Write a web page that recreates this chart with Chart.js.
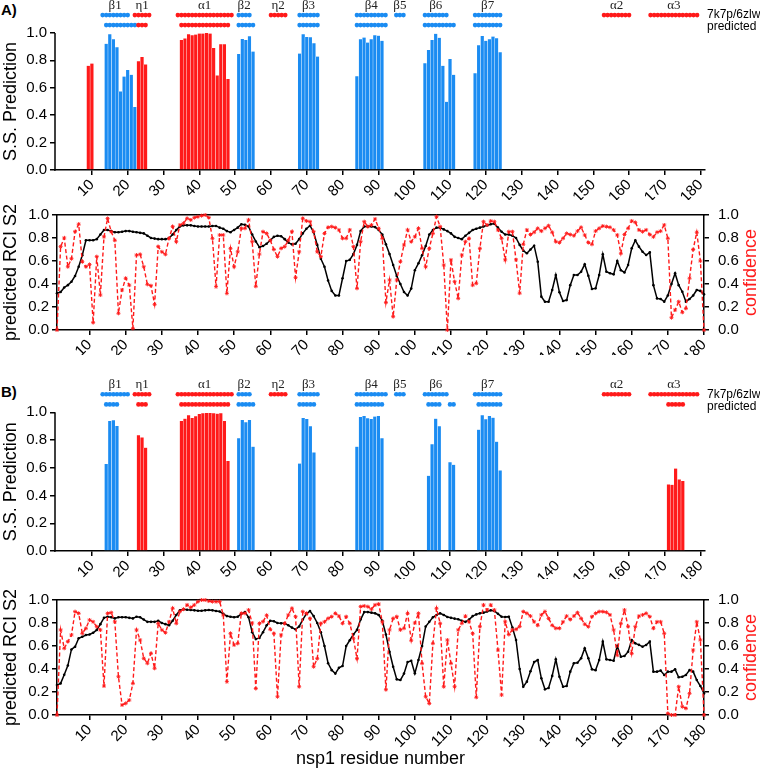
<!DOCTYPE html>
<html>
<head>
<meta charset="utf-8">
<script src="https://cdn.jsdelivr.net/npm/chart.js@4.4.1/dist/chart.umd.min.js"></script>
<style>
  body { margin: 0; background: #fff; }
  #wrap { position: relative; width: 760px; height: 770px; }
  canvas { position: absolute; left: 0; }
  .panel { position: absolute; left: 1px; font: bold 15px "Liberation Sans", Arial, sans-serif; }
</style>
</head>
<body>
<div id="wrap">
  <div class="panel" style="top:1px">A)</div>
  <canvas id="barA" width="760" height="200" style="top:0"></canvas>
  <canvas id="lineA" width="760" height="160" style="top:195px"></canvas>
  <div class="panel" style="top:383px">B)</div>
  <canvas id="barB" width="760" height="200" style="top:379px"></canvas>
  <canvas id="lineB" width="760" height="190" style="top:580px"></canvas>
</div>
<script>
const RED = '#ff1a1a';
const BLUE = '#1b8cf2';

const xTicks = [10, 20, 30, 40, 50, 60, 70, 80, 90, 100, 110, 120, 130, 140, 150, 160, 170, 180];
const yTicks = [0, 0.2, 0.4, 0.6, 0.8, 1.0];
const rowNames = ['7k7p/6zlw', 'predicted'];

// secondary structure from the deposited structures (top row of dots)
const structKnown = [
    {name: 'β1', type: 'E', from: 13, to: 20},
    {name: 'η1', type: 'H', from: 22, to: 26},
    {name: 'α1', type: 'H', from: 34, to: 49},
    {name: 'β2', type: 'E', from: 51, to: 54},
    {name: 'η2', type: 'H', from: 60, to: 64},
    {name: 'β3', type: 'E', from: 68, to: 73},
    {name: 'β4', type: 'E', from: 84, to: 92},
    {name: 'β5', type: 'E', from: 95, to: 97},
    {name: 'β6', type: 'E', from: 103, to: 109},
    {name: 'β7', type: 'E', from: 117, to: 124},
    {name: 'α2', type: 'H', from: 153, to: 160},
    {name: 'α3', type: 'H', from: 166, to: 179}
];
const structPredA = [
    {type: 'E', from: 14, to: 22}, {type: 'H', from: 23, to: 25}, {type: 'H', from: 35, to: 48},
    {type: 'E', from: 51, to: 55}, {type: 'E', from: 68, to: 73}, {type: 'E', from: 84, to: 92},
    {type: 'E', from: 103, to: 111}, {type: 'E', from: 117, to: 124}
];
const structPredB = [
    {type: 'E', from: 14, to: 17}, {type: 'H', from: 23, to: 25}, {type: 'H', from: 35, to: 48},
    {type: 'E', from: 51, to: 55}, {type: 'E', from: 68, to: 72}, {type: 'E', from: 84, to: 91},
    {type: 'E', from: 104, to: 107}, {type: 'E', from: 110, to: 111}, {type: 'E', from: 118, to: 124},
    {type: 'H', from: 171, to: 175}
];

// S.S. prediction bars: [first residue, values...]
const helixA = [
    [9, [0.76, 0.777]],
    [23, [0.794, 0.825, 0.77]],
    [35, [0.949, 0.96, 0.99, 0.983, 0.988, 0.995, 0.995, 1.0, 0.995, 0.89, 0.69, 0.917, 0.917, 0.663]]
];
const strandA = [
    [14, [0.92, 0.99, 0.954, 0.896, 0.573, 0.682, 0.73, 0.694, 0.459]],
    [51, [0.847, 0.956, 0.949, 0.976, 0.864]],
    [68, [0.85, 0.99, 0.97, 0.968, 0.925, 0.828]],
    [84, [0.684, 0.954, 0.966, 0.93, 0.954, 0.983, 0.98, 0.942]],
    [103, [0.779, 0.876, 0.949, 0.993, 0.964, 0.76, 0.498, 0.81, 0.694]],
    [117, [0.706, 0.91, 0.978, 0.942, 0.954, 0.973, 0.961, 0.859]]
];
const helixB = [
    [23, [0.834, 0.819, 0.745]],
    [35, [0.937, 0.954, 0.978, 0.959, 0.971, 0.988, 0.993, 0.995, 0.995, 0.993, 0.99, 0.993, 0.937, 0.648]],
    [171, [0.48, 0.477, 0.595, 0.516, 0.504]]
];
const strandB = [
    [14, [0.627, 0.937, 0.942, 0.901]],
    [51, [0.812, 0.945, 0.928, 0.945, 0.752]],
    [68, [0.631, 0.959, 0.952, 0.899, 0.711]],
    [84, [0.752, 0.966, 0.973, 0.957, 0.952, 0.969, 0.973, 0.812]],
    [104, [0.542, 0.769, 0.954, 0.899]],
    [110, [0.639, 0.622]],
    [118, [0.875, 0.978, 0.949, 0.973, 0.961, 0.788, 0.581]]
];

// residues 1..180
const rciA = [
    0.32, 0.33, 0.37, 0.39, 0.42, 0.47, 0.55, 0.65, 0.78, 0.78,
    0.78, 0.79, 0.83, 0.87, 0.87, 0.86, 0.85, 0.85, 0.855, 0.86,
    0.86, 0.855, 0.85, 0.845, 0.84, 0.82, 0.80, 0.795, 0.79, 0.79,
    0.79, 0.80, 0.83, 0.87, 0.90, 0.91, 0.91, 0.91, 0.905, 0.90,
    0.90, 0.90, 0.90, 0.905, 0.905, 0.89, 0.88, 0.86, 0.85, 0.87,
    0.89, 0.92, 0.915, 0.90, 0.83, 0.77, 0.72, 0.73, 0.75, 0.78,
    0.81, 0.82, 0.815, 0.79, 0.76, 0.745, 0.75, 0.79, 0.84, 0.88,
    0.907, 0.85, 0.74, 0.62, 0.55, 0.43, 0.34, 0.30, 0.30, 0.45,
    0.60, 0.61, 0.66, 0.74, 0.86, 0.90, 0.90, 0.90, 0.895, 0.87,
    0.83, 0.745, 0.66, 0.565, 0.47, 0.40, 0.33, 0.30, 0.36, 0.52,
    0.58, 0.65, 0.73, 0.83, 0.87, 0.89, 0.89, 0.875, 0.86, 0.84,
    0.81, 0.80, 0.79, 0.82, 0.845, 0.87, 0.88, 0.89, 0.90, 0.91,
    0.92, 0.925, 0.89, 0.855, 0.83, 0.83, 0.82, 0.80, 0.74, 0.69,
    0.667, 0.70, 0.733, 0.594, 0.29, 0.246, 0.246, 0.348, 0.478, 0.328,
    0.252, 0.26, 0.39, 0.478, 0.478, 0.507, 0.571, 0.472, 0.357, 0.362,
    0.478, 0.658, 0.507, 0.493, 0.484, 0.60, 0.52, 0.50, 0.565, 0.71,
    0.78, 0.725, 0.68, 0.652, 0.675, 0.39, 0.275, 0.27, 0.246, 0.30,
    0.40, 0.493, 0.39, 0.333, 0.246, 0.27, 0.30, 0.348, 0.34, 0.31
];
const confA = [
    0.0, 0.725, 0.80, 0.55, 0.62, 0.855, 0.92, 0.594, 0.55, 0.57,
    0.064, 0.638, 0.304, 0.81, 0.97, 0.855, 0.78, 0.145, 0.348, 0.45,
    0.39, 0.014, 0.652, 0.658, 0.55, 0.397, 0.385, 0.223, 0.725, 0.68,
    0.658, 0.797, 0.899, 0.768, 0.913, 0.928, 0.971, 0.957, 0.977, 0.985,
    0.994, 1.0, 0.977, 0.797, 0.377, 0.826, 0.826, 0.319, 0.71, 0.55,
    0.68, 0.884, 0.884, 0.957, 0.768, 0.38, 0.66, 0.855, 0.84, 0.78,
    0.70, 0.638, 0.71, 0.725, 0.78, 0.855, 0.455, 0.68, 0.971, 0.948,
    0.942, 0.855, 0.68, 0.638, 0.84, 0.893, 0.899, 0.89, 0.87, 0.797,
    0.797, 0.87, 0.725, 0.362, 0.768, 0.942, 0.899, 0.913, 0.965, 0.884,
    0.797, 0.24, 0.435, 0.116, 0.435, 0.594, 0.739, 0.87, 0.768, 0.81,
    0.884, 0.71, 0.55, 0.71, 0.84, 0.985, 0.899, 0.565, 0.0, 0.609,
    0.42, 0.275, 0.652, 0.768, 0.797, 0.39, 0.406, 0.71, 0.942, 0.913,
    0.948, 0.942, 0.87, 0.797, 0.61, 0.855, 0.855, 0.61, 0.32, 0.745,
    0.87, 0.83, 0.85, 0.884, 0.86, 0.884, 0.907, 0.85, 0.768, 0.76,
    0.797, 0.84, 0.83, 0.82, 0.86, 0.893, 0.826, 0.76, 0.745, 0.86,
    0.884, 0.904, 0.899, 0.893, 0.87, 0.826, 0.667, 0.83, 0.884, 0.948,
    0.936, 0.87, 0.855, 0.87, 0.83, 0.81, 0.85, 0.86, 0.913, 0.797,
    0.107, 0.174, 0.246, 0.154, 0.188, 0.45, 0.70, 0.85, 0.60, 0.0
];
const rciB = [
    0.26, 0.275, 0.35, 0.43, 0.57, 0.594, 0.667, 0.68, 0.696, 0.70,
    0.715, 0.74, 0.79, 0.845, 0.855, 0.85, 0.84, 0.85, 0.85, 0.85,
    0.845, 0.84, 0.855, 0.85, 0.83, 0.81, 0.81, 0.81, 0.82, 0.80,
    0.79, 0.78, 0.82, 0.87, 0.91, 0.92, 0.915, 0.913, 0.91, 0.907,
    0.907, 0.91, 0.913, 0.91, 0.905, 0.90, 0.88, 0.86, 0.855, 0.85,
    0.855, 0.88, 0.895, 0.85, 0.72, 0.66, 0.67, 0.72, 0.78, 0.82,
    0.815, 0.80, 0.797, 0.797, 0.78, 0.76, 0.745, 0.77, 0.83, 0.88,
    0.904, 0.86, 0.80, 0.72, 0.60, 0.45, 0.39, 0.36, 0.41, 0.426,
    0.60, 0.65, 0.70, 0.74, 0.83, 0.895, 0.895, 0.89, 0.884, 0.87,
    0.82, 0.70, 0.55, 0.42, 0.31, 0.304, 0.36, 0.46, 0.472, 0.362,
    0.478, 0.60, 0.77, 0.81, 0.85, 0.87, 0.884, 0.87, 0.852, 0.845,
    0.838, 0.832, 0.82, 0.81, 0.83, 0.86, 0.875, 0.884, 0.89, 0.90,
    0.91, 0.905, 0.88, 0.855, 0.852, 0.855, 0.76, 0.652, 0.40, 0.246,
    0.29, 0.38, 0.46, 0.478, 0.319, 0.223, 0.235, 0.34, 0.484, 0.333,
    0.246, 0.252, 0.377, 0.45, 0.455, 0.493, 0.58, 0.493, 0.397, 0.39,
    0.478, 0.638, 0.484, 0.478, 0.472, 0.60, 0.507, 0.513, 0.55, 0.652,
    0.623, 0.61, 0.594, 0.609, 0.638, 0.377, 0.377, 0.386, 0.348, 0.377,
    0.377, 0.397, 0.328, 0.333, 0.348, 0.39, 0.377, 0.304, 0.252, 0.188
];
const confB = [
    0.0, 0.74, 0.58, 0.638, 0.696, 0.899, 0.884, 0.71, 0.754, 0.826,
    0.81, 0.768, 0.74, 0.252, 0.884, 0.89, 0.81, 0.333, 0.087, 0.101,
    0.13, 0.275, 0.74, 0.652, 0.493, 0.45, 0.536, 0.406, 0.797, 0.74,
    0.716, 0.81, 0.928, 0.797, 0.899, 0.92, 0.957, 0.936, 0.957, 0.986,
    1.0, 1.0, 0.991, 0.986, 0.986, 0.986, 0.87, 0.29, 0.71, 0.609,
    0.623, 0.884, 0.884, 0.913, 0.80, 0.23, 0.797, 0.812, 0.867, 0.745,
    0.71, 0.159, 0.696, 0.797, 0.87, 0.928, 0.855, 0.246, 0.899, 0.884,
    0.84, 0.42, 0.49, 0.797, 0.81, 0.84, 0.855, 0.884, 0.86, 0.797,
    0.855, 0.797, 0.667, 0.49, 0.942, 0.948, 0.942, 0.92, 0.957, 0.965,
    0.81, 0.22, 0.74, 0.84, 0.855, 0.74, 0.754, 0.884, 0.65, 0.80,
    0.884, 0.449, 0.159, 0.10, 0.623, 0.928, 0.797, 0.246, 0.652, 0.449,
    0.246, 0.74, 0.797, 0.86, 0.81, 0.71, 0.154, 0.768, 0.957, 0.913,
    0.957, 0.913, 0.565, 0.174, 0.81, 0.70, 0.74, 0.745, 0.77, 0.899,
    0.884, 0.86, 0.81, 0.78, 0.87, 0.899, 0.84, 0.78, 0.754, 0.754,
    0.81, 0.86, 0.83, 0.86, 0.89, 0.84, 0.79, 0.768, 0.855, 0.884,
    0.899, 0.899, 0.893, 0.87, 0.74, 0.52, 0.797, 0.913, 0.768, 0.536,
    0.768, 0.86, 0.87, 0.884, 0.855, 0.754, 0.81, 0.81, 0.71, 0.014,
    0.0, 0.0, 0.246, 0.072, 0.058, 0.188, 0.565, 0.81, 0.652, 0.0
];

Chart.defaults.font.family = '"Liberation Sans", Arial, sans-serif';
Chart.defaults.color = '#000';
Chart.defaults.animation = false;

const labelLevel = 1.2;
const knownLevel = 1.13;
const predLevel = 1.057;

toBars = (segs) => segs.flatMap(([start, vals]) => vals.map((v, i) => ({x: start + i, y: v})));
toPoints = (vals) => vals.map((v, i) => ({x: i + 1, y: v}));
fixedTicks = (list) => (scale) => { scale.ticks = list.map(v => ({value: v})); };

dotRow = (segs, level) => {
    let data = [], colors = [];
    segs.forEach(s => {
        for (let r = s.from; r <= s.to; r++) {
            data.push({x: r, y: level});
            colors.push(s.type === 'H' ? RED : BLUE);
        }
    });
    return {type: 'scatter', data: data, pointRadius: 2.3, pointBackgroundColor: colors,
            pointBorderWidth: 0, showLine: false, clip: false};
};

const ssDecor = {
    id: 'ssDecor',
    afterDraw(chart) {
        const {ctx, chartArea: area, scales: {x, y}} = chart;
        ctx.save();
        ctx.strokeStyle = '#000';
        ctx.lineWidth = 1.5;
        ctx.beginPath();
        ctx.moveTo(area.left, y.getPixelForValue(0) + 0.75);
        ctx.lineTo(area.left, y.getPixelForValue(1));
        ctx.stroke();
        ctx.fillStyle = '#222';
        ctx.font = '13px "Liberation Serif", serif';
        ctx.textAlign = 'center';
        ctx.textBaseline = 'middle';
        structKnown.forEach(s => ctx.fillText(s.name, x.getPixelForValue((s.from + s.to) / 2), y.getPixelForValue(labelLevel)));
        ctx.fillStyle = '#000';
        ctx.font = '12px "Liberation Sans", Arial, sans-serif';
        ctx.textAlign = 'left';
        ctx.fillText(rowNames[0], area.right + 2, y.getPixelForValue(knownLevel));
        ctx.fillText(rowNames[1], area.right + 2, y.getPixelForValue(predLevel) + 2);
        ctx.restore();
    }
};

const axisTitles = {
    id: 'axisTitles',
    afterDraw(chart, args, opts) {
        const {ctx} = chart;
        const y = chart.scales.y;
        const mid = (y.getPixelForValue(0) + y.getPixelForValue(1)) / 2;
        ctx.save();
        ctx.font = '18px "Liberation Sans", Arial, sans-serif';
        ctx.textAlign = 'center';
        ctx.textBaseline = 'middle';
        ctx.fillStyle = '#000';
        ctx.translate(y.left + 11, mid);
        ctx.rotate(-Math.PI / 2);
        ctx.fillText(opts.left, 0, 0);
        ctx.restore();
        if (opts.right) {
            const y2 = chart.scales.y2;
            ctx.save();
            ctx.font = '18px "Liberation Sans", Arial, sans-serif';
            ctx.textAlign = 'center';
            ctx.textBaseline = 'middle';
            ctx.fillStyle = RED;
            ctx.translate(y2.right - 9, mid);
            ctx.rotate(-Math.PI / 2);
            ctx.fillText(opts.right, 0, 0);
            ctx.restore();
        }
    }
};

displaySS = (id, helix, strand, pred, xHeight) => {
    const barStyle = {type: 'bar', barPercentage: 1, categoryPercentage: 1, grouped: false,
                      borderColor: 'rgba(255,255,255,0.55)', borderWidth: {left: 0.5, right: 0.5, top: 0, bottom: 0}};
    new Chart(document.getElementById(id), {
        type: 'bar',
        data: {
            datasets: [
                {...barStyle, data: toBars(helix), backgroundColor: RED},
                {...barStyle, data: toBars(strand), backgroundColor: BLUE},
                dotRow(structKnown, knownLevel),
                dotRow(pred, predLevel)
            ]
        },
        options: {
            responsive: false,
            layout: {autoPadding: false, padding: {left: 0, right: 55, top: 0, bottom: 0}},
            plugins: {legend: {display: false}, tooltip: {enabled: false}, axisTitles: {left: 'S.S. Prediction'}},
            scales: {
                x: {
                    type: 'linear', min: -0.3, max: 181.2, offset: false,
                    afterBuildTicks: fixedTicks(xTicks),
                    afterFit: (s) => { s.height = xHeight; },
                    ticks: {minRotation: 45, maxRotation: 45, autoSkip: false, padding: 1, font: {size: 15}},
                    grid: {drawOnChartArea: false, offset: false, tickLength: 5, color: '#000', lineWidth: 1.5},
                    border: {color: '#000', width: 1.5}
                },
                y: {
                    min: 0, max: 1.24,
                    afterBuildTicks: fixedTicks(yTicks),
                    afterFit: (s) => { s.width = 55; s.paddingTop = 0; s.paddingBottom = 0; },
                    ticks: {padding: 3, font: {size: 15}, callback: v => v.toFixed(1)},
                    grid: {drawOnChartArea: false, tickLength: 5, color: '#000', lineWidth: 1.5},
                    border: {display: false}
                }
            }
        },
        plugins: [ssDecor, axisTitles]
    });
};

displayRCI = (id, rci, conf, padTop, xHeight, xTitle) => {
    new Chart(document.getElementById(id), {
        type: 'line',
        data: {
            datasets: [{
                data: toPoints(conf), yAxisID: 'y2', borderColor: RED, borderWidth: 1.4, borderDash: [4, 2.5],
                pointStyle: 'star', pointRadius: 2, pointBorderColor: RED, pointBorderWidth: 0.9, clip: false
            }, {
                data: toPoints(rci), yAxisID: 'y', borderColor: '#000', borderWidth: 1.5,
                pointRadius: 1.3, pointBackgroundColor: '#000', pointBorderWidth: 0, clip: false
            }]
        },
        options: {
            responsive: false,
            layout: {padding: {left: 0, right: 0, top: padTop, bottom: 0}},
            plugins: {legend: {display: false}, tooltip: {enabled: false},
                      axisTitles: {left: 'predicted RCI S2', right: 'confidence'}},
            scales: {
                x: {
                    type: 'linear', min: 1, max: 180,
                    afterBuildTicks: fixedTicks(xTicks),
                    afterFit: (s) => { s.height = xHeight; },
                    ticks: {minRotation: 45, maxRotation: 45, autoSkip: false, padding: 1, font: {size: 15}},
                    grid: {drawOnChartArea: false, tickLength: 5, color: '#000', lineWidth: 1.5},
                    border: {color: '#000', width: 1.5},
                    title: {display: !!xTitle, text: xTitle, font: {size: 18}, padding: {top: 0, bottom: 0}}
                },
                xTop: {
                    type: 'linear', position: 'top', min: 1, max: 180,
                    afterFit: (s) => { s.height = 0; },
                    ticks: {display: false},
                    grid: {display: false},
                    border: {color: '#000', width: 1.5}
                },
                y: {
                    min: 0, max: 1,
                    afterBuildTicks: fixedTicks(yTicks),
                    afterFit: (s) => { s.width = 57; },
                    ticks: {padding: 3, font: {size: 15}, callback: v => v.toFixed(1)},
                    grid: {drawOnChartArea: false, tickLength: 5, color: '#000', lineWidth: 1.5},
                    border: {color: '#000', width: 1.5}
                },
                y2: {
                    position: 'right', min: 0, max: 1,
                    afterBuildTicks: fixedTicks(yTicks),
                    afterFit: (s) => { s.width = 56; },
                    ticks: {padding: 9, font: {size: 15}, callback: v => v.toFixed(1)},
                    grid: {drawOnChartArea: false, tickLength: 5, color: '#000', lineWidth: 1.5},
                    border: {color: '#000', width: 1.5}
                }
            }
        },
        plugins: [axisTitles]
    });
};

displaySS('barA', helixA, strandA, structPredA, 30);
displayRCI('lineA', rciA, confA, 20, 25, '');
displaySS('barB', helixB, strandB, structPredB, 28);
displayRCI('lineB', rciB, confB, 20, 55, 'nsp1 residue number');
</script>
</body>
</html>
